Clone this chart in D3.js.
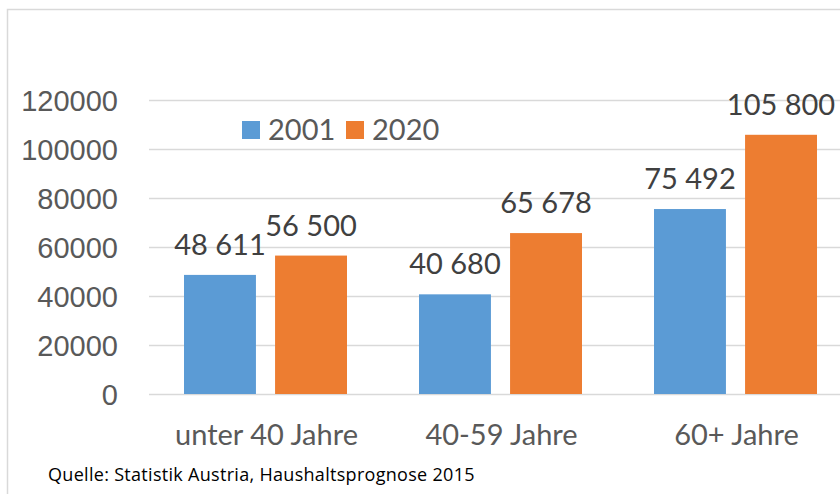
<!DOCTYPE html>
<html>
<head>
<meta charset="utf-8">
<script src="https://cdn.jsdelivr.net/npm/d3@7"></script>
<style>
   body { margin: 0; background: #fff; }
   svg { display: block; font-family: Lato, "Open Sans", sans-serif; }
</style>
</head>
<body>
<script>
   // data
   const categories = ['unter 40 Jahre', '40-59 Jahre', '60+ Jahre'];
   const series = ['2001', '2020'];
   const values2001 = [48611, 40680, 75492];
   const values2020 = [56500, 65678, 105800];
   const yTicks = [0, 20000, 40000, 60000, 80000, 100000, 120000];
   const colors = ['#5b9bd5', '#ed7d31'];
   const sourceText = 'Quelle: Statistik Austria, Haushaltsprognose 2015';

   let width = 840;
   let height = 494;
   let svg = d3.select('body').append('svg')
      .attr('width', width)
      .attr('height', height);

   // chart frame (only top and left edges are visible in the window)
   svg.append('path')
      .attr('d', 'M7.5,494 V9.5 H840')
      .attr('fill', 'none')
      .attr('stroke', '#d9d9d9')
      .attr('stroke-width', 1.5);

   let yScale = d3.scaleLinear().domain([0, 120000]).range([394, 100]);
   let xScale = d3.scaleBand().domain(categories).range([148, 853]);
   let xSub = d3.scaleBand().domain(series).range([36, 199]).paddingInner(0.21);

   // gridlines + tick labels via axis
   let yAxis = d3.axisLeft(yScale)
      .tickValues(yTicks)
      .tickFormat(d3.format('d'))
      .tickSize(-(width - 149))
      .tickPadding(31);
   let gy = svg.append('g')
      .attr('transform', 'translate(149,0)')
      .call(yAxis);
   gy.select('.domain').remove();
   gy.selectAll('.tick line').attr('stroke', '#d9d9d9').attr('stroke-width', 1.5);
   gy.selectAll('.tick text')
      .attr('fill', '#595959')
      .style('font-size', '29px')
      .attr('dy', '0.36em');

   // bars
   let rows = categories.map((c, i) => ({ cat: c, vals: [values2001[i], values2020[i]] }));
   let groups = svg.selectAll('.grp')
      .data(rows)
      .enter()
      .append('g')
      .attr('class', 'grp')
      .attr('transform', (d) => 'translate(' + xScale(d.cat) + ',0)');

   groups.selectAll('rect')
      .data((d) => d.vals.map((v, j) => ({ s: series[j], v: v, j: j })))
      .enter()
      .append('rect')
      .attr('x', (d) => xSub(d.s))
      .attr('y', (d) => yScale(d.v))
      .attr('width', xSub.bandwidth())
      .attr('height', (d) => yScale(0) - yScale(d.v))
      .attr('fill', (d) => colors[d.j]);

   // value labels, e.g. "48 611"
   let fmt = (v) => d3.format(',')(v).replace(/,/g, ' ');
   groups.selectAll('.val')
      .data((d) => d.vals.map((v, j) => ({ s: series[j], v: v })))
      .enter()
      .append('text')
      .attr('class', 'val')
      .attr('x', (d) => xSub(d.s) + xSub.bandwidth() / 2)
      .attr('y', (d) => yScale(d.v) - 20)
      .attr('text-anchor', 'middle')
      .attr('fill', '#404040')
      .style('font-size', '29px')
      .text((d) => fmt(d.v));

   // category labels
   svg.selectAll('.cat')
      .data(categories)
      .enter()
      .append('text')
      .attr('class', 'cat')
      .attr('x', (d) => xScale(d) + xScale.bandwidth() / 2 + 1)
      .attr('y', 445)
      .attr('text-anchor', 'middle')
      .attr('fill', '#595959')
      .style('font-size', '29px')
      .text((d) => d);

   // legend
   let legendX = [242, 346];
   let legend = svg.selectAll('.leg')
      .data(series)
      .enter()
      .append('g')
      .attr('class', 'leg')
      .attr('transform', (d, i) => 'translate(' + legendX[i] + ',121)');
   legend.append('rect')
      .attr('width', 18)
      .attr('height', 18)
      .attr('fill', (d, i) => colors[i]);
   legend.append('text')
      .attr('x', 26)
      .attr('y', 19)
      .attr('fill', '#595959')
      .style('font-size', '29px')
      .text((d) => d);

   // source note
   svg.append('text')
      .attr('x', 48)
      .attr('y', 481)
      .attr('fill', '#000')
      .style('font-family', '"Open Sans", sans-serif')
      .style('font-size', '18px')
      .style('letter-spacing', '0.3px')
      .text(sourceText);
</script>
</body>
</html>
